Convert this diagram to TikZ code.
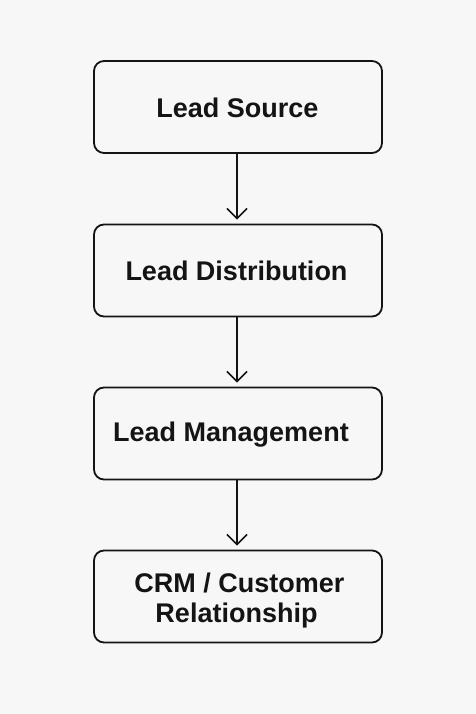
\documentclass[tikz,border=0pt]{standalone}
\usepackage{fontspec}
\setmainfont{Liberation Sans}
\usetikzlibrary{arrows.meta}
\definecolor{bg}{HTML}{F7F7F7}
\definecolor{ink}{HTML}{141414}
\begin{document}
\begin{tikzpicture}[x=1pt,y=-1pt,
  stagebox/.style={draw=ink, line width=1.8pt, rounded corners=10pt, minimum width=288pt, minimum height=92pt, inner sep=0pt},
  stagetext/.style={font=\fontsize{27}{30}\selectfont\bfseries, text=ink, inner sep=0pt, anchor=base},
  flow/.style={draw=ink, line width=1.5pt, -{Straight Barb[length=10pt,width=20pt,line width=1.6pt]}}]
\fill[bg] (0,0) rectangle (476,714);
\useasboundingbox (0,0) rectangle (476,714);
\node[stagebox] (b1) at (238,107) {};
\node[stagebox] (b2) at (238,270.5) {};
\node[stagebox] (b3) at (238,433.5) {};
\node[stagebox] (b4) at (238,596.5) {};
\node[stagetext] (t1) at (237.5,118) {Lead Source};
\node[stagetext] (t2) at (236.5,280) {Lead Distribution};
\node[stagetext] (t3) at (231,441) {Lead Management};
\node[stagetext] (t4a) at (239.5,592) {CRM / Customer};
\node[stagetext] (t4b) at (236.5,622) {Relationship};
\draw[flow] (b1.south -| 237,0) -- ([yshift=4pt]b2.north -| 237,0);
\draw[flow] (b2.south -| 237,0) -- ([yshift=4pt]b3.north -| 237,0);
\draw[flow] (b3.south -| 237,0) -- ([yshift=4pt]b4.north -| 237,0);
\end{tikzpicture}
\end{document}
